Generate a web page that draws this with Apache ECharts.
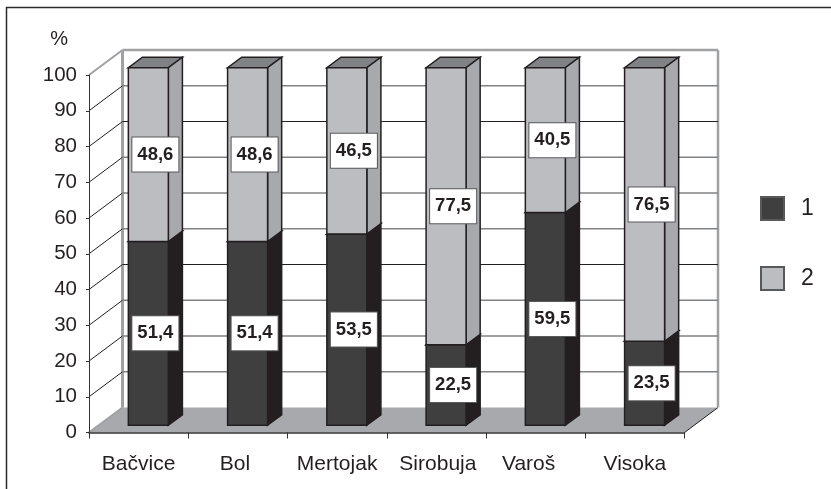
<!DOCTYPE html>
<html>
<head>
<meta charset="utf-8">
<style>html,body{margin:0;padding:0;background:#fff}#c{width:831px;height:489px}</style>
<script src="https://cdn.jsdelivr.net/npm/echarts@6/dist/echarts.min.js"></script>
</head>
<body>
<div id="c"></div>
<script>
var categories = ['Bačvice', 'Bol', 'Mertojak', 'Sirobuja', 'Varoš', 'Visoka'];
var series1 = [51.4, 51.4, 53.5, 22.5, 59.5, 23.5];
var series2 = [48.6, 48.6, 46.5, 77.5, 40.5, 76.5];
var seriesNames = ['1', '2'];
var yTicks = [0, 10, 20, 30, 40, 50, 60, 70, 80, 90, 100];

var FONT = '"Liberation Sans", Arial, sans-serif';
var DEPTH_X = 33.5, DEPTH_Y = 25;       // oblique projection of the chart's depth
var BAR_WIDTH = 40;
var Z_FRONT = 0.29, Z_BACK = 0.71;      // bar position within the depth
var INK = '#231f20', WALL = '#a0a1a3';
var DARK_LINES = {40: 1, 80: 1};
var LABEL_STYLE_BY_NAME = {'Bol': 'a', 'Sirobuja': 'b', 'Varoš': 'c'};
var XFONT = 21;

function line(x1, y1, x2, y2, stroke, w) {
  return {type: 'line', shape: {x1: x1, y1: y1, x2: x2, y2: y2}, style: {stroke: stroke, lineWidth: w, fill: null}};
}
function poly(points, fill) {
  return {type: 'polygon', shape: {points: points}, style: {fill: fill, stroke: INK, lineWidth: 1.5, lineJoin: 'miter'}};
}

function renderFrame(params, api) {
  var v = api.value(0);
  var p = api.coord([0, v]);
  var cs = params.coordSys;
  var l = cs.x, r = cs.x + cs.width, y = p[1];
  var kids = [];
  if (v === 0) {
    kids.push({type: 'polygon', shape: {points: [[l, y], [r, y], [r + DEPTH_X, y - DEPTH_Y], [l + DEPTH_X, y - DEPTH_Y]]},
      style: {fill: '#a7a9ac'}});
    kids.push(line(r, y, r + DEPTH_X, y - DEPTH_Y, INK, 1));
    kids.push(line(l, y, l + DEPTH_X, y - DEPTH_Y, WALL, 2));
    kids.push(line(l + DEPTH_X, y - DEPTH_Y, l + DEPTH_X, cs.y - DEPTH_Y, WALL, 3));
    kids.push(line(r + DEPTH_X, y - DEPTH_Y, r + DEPTH_X, cs.y - DEPTH_Y, WALL, 2.5));
  } else if (v === 100) {
    kids.push(line(l, y, l + DEPTH_X, y - DEPTH_Y, WALL, 2));
    kids.push(line(l + DEPTH_X, y - DEPTH_Y, r + DEPTH_X, y - DEPTH_Y, WALL, 2.5));
  } else {
    kids.push(line(l, y, l + DEPTH_X, y - DEPTH_Y, INK, 1));
    kids.push(line(l + DEPTH_X, y - DEPTH_Y, r + DEPTH_X, y - DEPTH_Y, DARK_LINES[v] ? INK : '#808285', DARK_LINES[v] ? 1.2 : 1.5));
  }
  return {type: 'group', children: kids};
}

function makeBarRenderer(front, side, top) {
  return function (params, api) {
    var i = api.value(0), start = api.value(1), end = api.value(2), val = api.value(3);
    var a = api.coord([i, start]), b = api.coord([i, end]);
    var ox = DEPTH_X * Z_FRONT, oy = -DEPTH_Y * Z_FRONT;
    var dx = DEPTH_X * (Z_BACK - Z_FRONT), dy = -DEPTH_Y * (Z_BACK - Z_FRONT);
    var x0 = a[0] - BAR_WIDTH / 2 + ox, x1 = x0 + BAR_WIDTH;
    var yb = a[1] + oy, yt = b[1] + oy;
    var label = val.toFixed(1).replace('.', ',');
    return {type: 'group', children: [
      poly([[x0, yt], [x1, yt], [x1 + dx, yt + dy], [x0 + dx, yt + dy]], top),
      poly([[x1, yb], [x1 + dx, yb + dy], [x1 + dx, yt + dy], [x1, yt]], side),
      poly([[x0, yb], [x1, yb], [x1, yt], [x0, yt]], front),
      {type: 'text', z2: 20, style: {
        text: label, x: x0 + BAR_WIDTH / 2 + dx / 2 , y: (yb + yt) / 2, align: 'center', verticalAlign: 'middle',
        font: 'bold 18.5px ' + FONT, fill: INK, backgroundColor: '#fff',
        borderColor: '#58595b', borderWidth: 1, padding: [8, 5, 7, 5]
      }}
    ]};
  };
}

var stack1 = categories.map(function (c, i) { return [i, 0, series1[i], series1[i]]; });
var stack2 = categories.map(function (c, i) { return [i, series1[i], series1[i] + series2[i], series2[i]]; });

var chart = echarts.init(document.getElementById('c'), null, {renderer: 'canvas'});
chart.setOption({
  animation: false,
  backgroundColor: '#fff',
  textStyle: {fontFamily: FONT},
  graphic: [{type: 'polyline', silent: true, shape: {points: [[6.5, 489], [6.5, 7.5], [831, 7.5]]},
    style: {stroke: '#2b2b2b', lineWidth: 1.5, fill: null}}],
  grid: {left: 89, right: 146.5, top: 75, bottom: 56.5, containLabel: false},
  legend: {
    orient: 'vertical', left: 760, top: 196, padding: 0, itemWidth: 23, itemHeight: 23, itemGap: 45,
    data: [{name: seriesNames[0], icon: 'rect'}, {name: seriesNames[1], icon: 'rect'}],
    textStyle: {fontSize: 23, lineHeight: 23, color: INK, fontFamily: FONT, padding: [0, 0, 0, 12]}
  },
  xAxis: {
    type: 'category', data: categories, z: 5,
    axisLine: {lineStyle: {color: '#333', width: 1.5}},
    axisTick: {show: true, length: 6, lineStyle: {color: '#333', width: 1}},
    axisLabel: {
      fontSize: XFONT, color: INK, margin: 21, fontFamily: FONT, interval: 0,
      formatter: function (name) {
        var s = LABEL_STYLE_BY_NAME[name];
        return s ? '{' + s + '|' + name + '}' : name;
      },
      rich: {
        a: {fontSize: XFONT, color: INK, fontFamily: FONT, padding: [0, 6, 0, 0]},
        b: {fontSize: XFONT, color: INK, fontFamily: FONT, padding: [0, 0, 0, 3]},
        c: {fontSize: XFONT, color: INK, fontFamily: FONT, padding: [0, 14, 0, 0]}
      }
    },
    splitLine: {show: false}
  },
  yAxis: {
    type: 'value', min: 0, max: 100, interval: 10, z: 5,
    name: '%', nameLocation: 'end', nameGap: 26,
    nameTextStyle: {fontSize: 20, color: INK, fontFamily: FONT, align: 'right', padding: [0, 21, 0, 0]},
    axisLine: {show: true, lineStyle: {color: '#333', width: 1}},
    axisTick: {show: true, length: 3, lineStyle: {color: '#333', width: 1}},
    axisLabel: {fontSize: 20.5, color: INK, margin: 12, fontFamily: FONT, padding: [2, 0, 0, 0]},
    splitLine: {show: false}
  },
  series: [
    {type: 'custom', name: 'frame', z: 1, silent: true, data: yTicks.map(function (t) { return [t]; }),
      encode: {y: 0}, renderItem: renderFrame, clip: false},
    {type: 'custom', name: seriesNames[0], z: 3, data: stack1, encode: {x: 0, y: [1, 2]},
      itemStyle: {color: '#3f3f40', borderColor: '#58595b', borderWidth: 1},
      renderItem: makeBarRenderer('#3f3f40', INK, '#3f3f40'), clip: false},
    {type: 'custom', name: seriesNames[1], z: 4, data: stack2, encode: {x: 0, y: [1, 2]},
      itemStyle: {color: '#bcbdc0', borderColor: '#58595b', borderWidth: 1},
      renderItem: makeBarRenderer('#bcbdc0', '#a7a9ac', '#808285'), clip: false}
  ]
});
</script>
</body>
</html>
